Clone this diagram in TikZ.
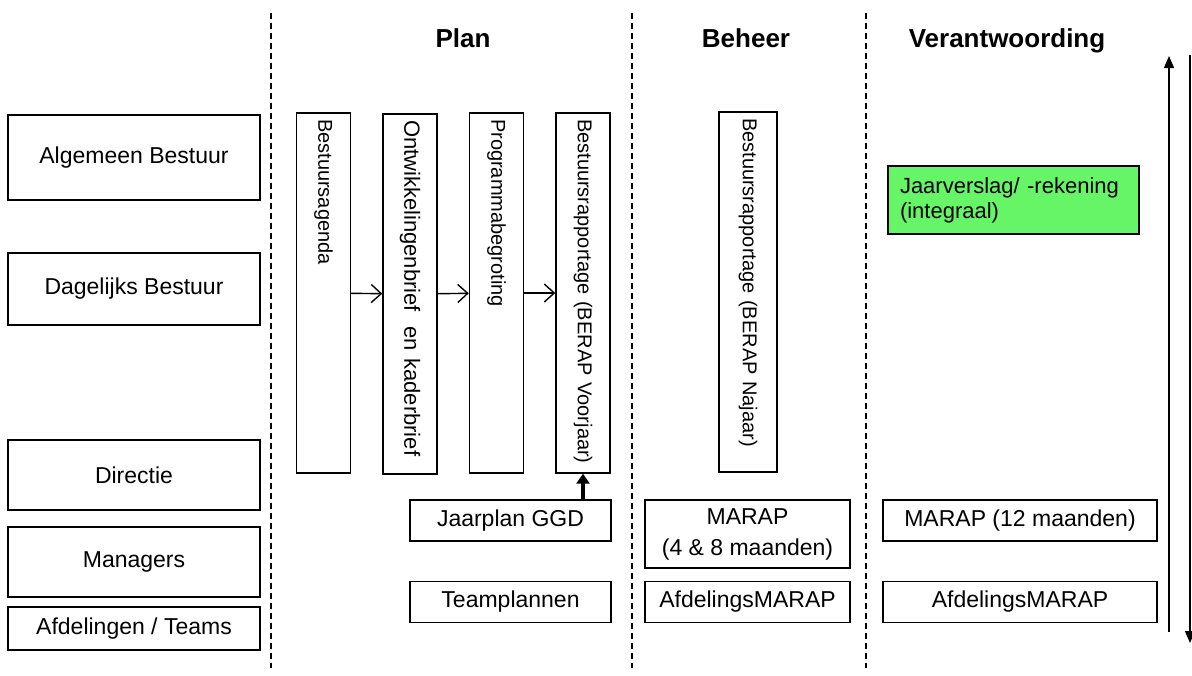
\documentclass[tikz,border=0pt]{standalone}
\usepackage{fontspec}
\setmainfont{Liberation Sans}
\usetikzlibrary{arrows.meta,positioning}

\definecolor{jvgreen}{RGB}{102,245,102}

\begin{document}
\begin{tikzpicture}[x=0.5pt, y=-0.5pt,
        every node/.style={draw, line width=0.7pt, align=center, inner sep=2pt,
            font=\fontsize{11.5}{15.5}\selectfont},
        lane/.style={minimum width=126pt, minimum height=#1},
        lane/.default=35pt,
        docbox/.style={rotate=-90, text width=174pt, inner xsep=3pt, align=left,
            minimum height=27pt, font=\fontsize{10}{12}\selectfont},
        prodbox/.style={minimum height=20.5pt},
        phase/.style={draw=none, anchor=base, font=\bfseries\fontsize{13}{15}\selectfont},
        sep/.style={dash pattern=on 3pt off 2pt, line width=0.8pt},
        flow/.style={-{Straight Barb[length=5pt,width=9pt]}, line width=0.7pt},
        feed/.style={-{Triangle[length=5pt,width=6.5pt]}, line width=1.6pt},
        axis/.style={-{Triangle[length=6pt,width=5pt]}, line width=0.7pt}
    ]
    \useasboundingbox (0,0) rectangle (1192,675);

    % Columns
    \draw[sep] (271,13) -- (271,668);
    \draw[sep] (632,13) -- (632,668);
    \draw[sep] (866,13) -- (866,668);

    \node[phase] (plan) at (463,47) {Plan};
    \node[phase] (beheer) at (746,47) {Beheer};
    \node[phase] (verantw) at (1007,47) {Verantwoording};

    % Levels
    \node[lane=42.5pt] (ab) at (134,157.5) {Algemeen Bestuur};
    \node[lane=36pt] (db) at (134,289) {Dagelijks Bestuur};
    \node[lane] (dir) at (134,475) {Directie};
    \node[lane] (man) at (134,562) {Managers};
    \node[lane=21.5pt] (aft) at (134,628.5) {Afdelingen / Teams};

    % Plan
    \node[docbox] (bagenda) at (323.5,293) {Bestuursagenda};
    \node[docbox, font=\fontsize{11}{12}\selectfont] (obrief) at (410,294)
        {\mbox{Ontwikkelingenbrief~~en kaderbrief}};
    \node[docbox] (pbegr) at (496.5,293) {Programmabegroting};
    \node[docbox] (bvoorjaar) at (583,293) {\mbox{Bestuursrapportage (BERAP Voorjaar)}};

    \node[prodbox, minimum width=100.5pt] (jaarplan) at (510.5,520.5) {Jaarplan GGD};
    \node[prodbox, minimum width=100.5pt] (teamplan) at (510.5,602) {Teamplannen};

    % Beheer
    \node[docbox, minimum height=29pt] (bnajaar) at (748,292) {\mbox{Bestuursrapportage (BERAP Najaar)}};
    \node[minimum width=102.5pt, minimum height=34pt] (marap48) at (747.5,534) {MARAP\\(4 \& 8 maanden)};
    \node[prodbox, minimum width=102.5pt] (afdmarap) at (747.5,602) {AfdelingsMARAP};

    % Verantwoording
    \node[fill=jvgreen, minimum height=34pt, text width=113.5pt, inner xsep=6pt, align=left,
        font=\fontsize{11}{12.5}\selectfont] (jaarverslag) at (1013.5,200)
        {Jaarverslag/ -rekening\\(integraal)};
    \node[prodbox, minimum width=137pt] (marap12) at (1020,520.5) {MARAP (12 maanden)};
    \node[prodbox, minimum width=137pt] (afdmarap2) at (1020,602) {AfdelingsMARAP};

    % Edges
    \draw[flow] (bagenda) -- (obrief);
    \draw[flow] (obrief) -- (pbegr);
    \draw[flow] (pbegr) -- (bvoorjaar);
    \draw[feed] (jaarplan.north -| bvoorjaar) -- (bvoorjaar);

    \coordinate (uplow) at (1169,632);
    \coordinate (uptop) at (1169,56);
    \coordinate (downtop) at (1190,55);
    \coordinate (downlow) at (1190,643);
    \draw[axis] (uplow) -- (uptop);
    \draw[axis] (downtop) -- (downlow);

\end{tikzpicture}
\end{document}
